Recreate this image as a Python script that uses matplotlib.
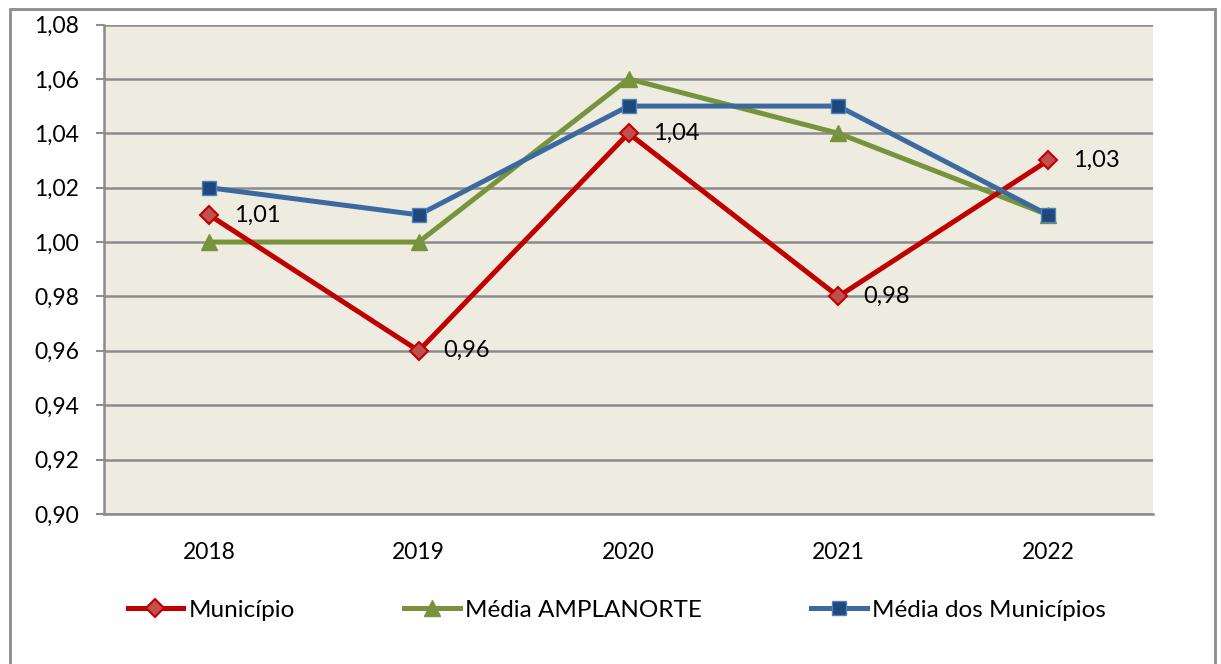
import matplotlib
matplotlib.use("Agg")
import matplotlib.pyplot as plt
from matplotlib.patches import Rectangle

# chart data
anos = ["2018", "2019", "2020", "2021", "2022"]
municipio = [1.01, 0.96, 1.04, 0.98, 1.03]
amplanorte = [1.00, 1.00, 1.06, 1.04, 1.01]
media_municipios = [1.02, 1.01, 1.05, 1.05, 1.01]
y_ticks = [0.90, 0.92, 0.94, 0.96, 0.98, 1.00, 1.02, 1.04, 1.06, 1.08]

plt.rcParams['font.family'] = ['Lato', 'DejaVu Sans']
fs = 16.5

fig = plt.figure(figsize=(12.21, 6.64), dpi=100)
ax = fig.add_axes([0.0852, 0.2259, 0.8591, 0.7372])
ax.set_facecolor('#eeece1')

x = list(range(len(anos)))

ax.plot(x, amplanorte, color='#77933c', lw=3.6, marker='^', ms=11,
        mfc='#77933c', mec='#77933c', zorder=3, label='Média AMPLANORTE')
ax.plot(x, municipio, color='#c00000', lw=3.6, marker='D', ms=9,
        mfc='#c0504d', mec='#c00000', mew=1.5, zorder=4, label='Município')
ax.plot(x, media_municipios, color='#3c6aa0', lw=3.6, marker='s', ms=10,
        mfc='#1f497d', mec='#4f81bd', mew=1, zorder=5, label='Média dos Municípios')

for xi, v in zip(x, municipio):
    ax.annotate(f"{v:.2f}".replace('.', ','), (xi, v), xytext=(18, 0),
                textcoords='offset points', va='center', ha='left',
                fontsize=17, zorder=6)

ax.set_xlim(-0.5, len(anos) - 0.5)
ax.set_ylim(0.90, 1.08)
ax.set_yticks(y_ticks)
ax.set_yticklabels([f"{t:.2f}".replace('.', ',') for t in y_ticks], fontsize=fs)
ax.set_xticks(x)
ax.set_xticklabels(anos, fontsize=fs)
ax.tick_params(axis='y', length=6, width=1.5, color='#8c8c8c', pad=12)
ax.tick_params(axis='x', length=0, pad=20)

ax.grid(axis='y', color='#8c8c8c', lw=1.8, zorder=1)
ax.set_axisbelow(True)
for s in ['top', 'right']:
    ax.spines[s].set_visible(False)
for s in ['left', 'bottom']:
    ax.spines[s].set_color('#8c8c8c')
    ax.spines[s].set_linewidth(1.8)

handles, labels = ax.get_legend_handles_labels()
order = [1, 0, 2]
fig.legend([handles[i] for i in order], [labels[i] for i in order],
           loc='center', bbox_to_anchor=(0.505, 0.081), ncol=3, frameon=False,
           fontsize=17.5, handlelength=2.3, handletextpad=0.2, columnspacing=4.5)

# outer chart frame
fig.patches.append(Rectangle((10 / 1221, -0.05), 1205 / 1221, 1 - 9 / 664 + 0.05,
                             transform=fig.transFigure, fill=False,
                             edgecolor='#8c8c8c', lw=2))

fig.savefig('out.png', dpi=100)
